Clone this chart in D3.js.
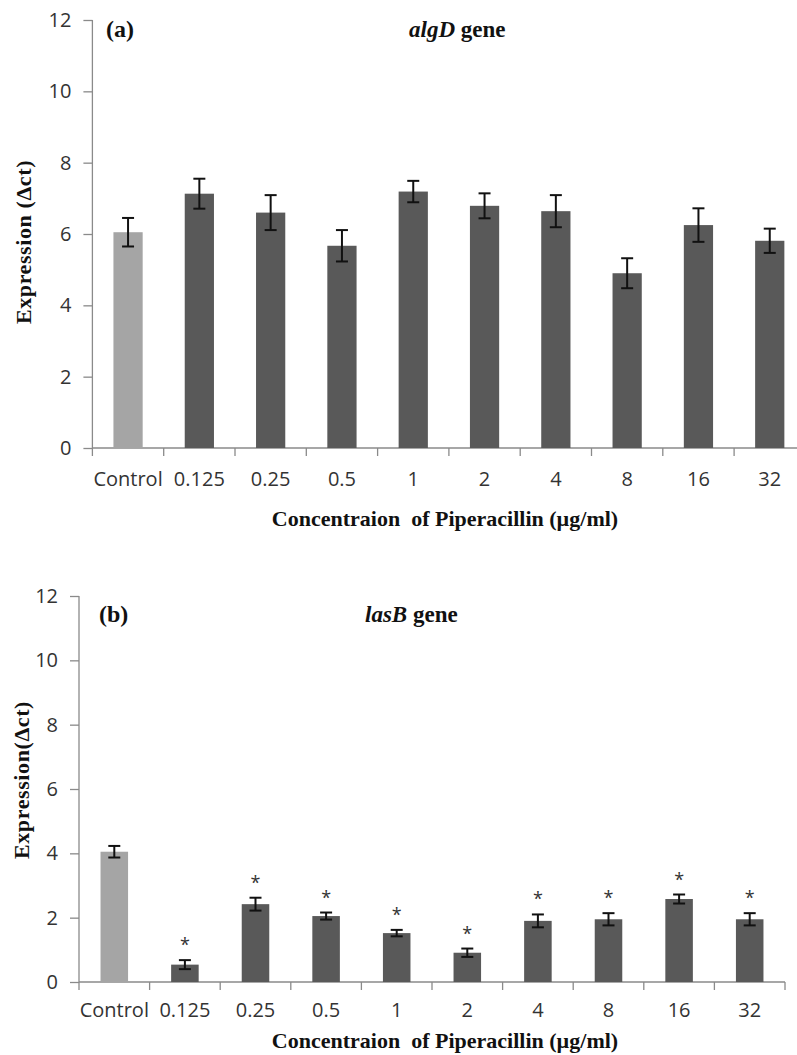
<!DOCTYPE html>
<html lang="en">
<head>
    <meta charset="UTF-8">
    <title>Piperacillin gene expression</title>
    <script src="https://cdn.jsdelivr.net/npm/d3@7"></script>
    <style>
        body { margin: 0; background: #fff; }
        .tick text { font-family: "Open Sans", sans-serif; font-size: 20px; fill: #333; }
        .axis path, .axis line { stroke: #8a8a8a; stroke-width: 1.3px; }
        .title { font-family: "Liberation Serif", serif; font-weight: bold; font-size: 22px; fill: #111; }
        .star { font-family: "Open Sans", sans-serif; font-size: 18px; fill: #333; }
    </style>
</head>
<body>
<div id="chart"></div>
<script>
    var W = 797, H = 1055;

    // data
    var categories = ["Control", "0.125", "0.25", "0.5", "1", "2", "4", "8", "16", "32"];
    var yTicks = [0, 2, 4, 6, 8, 10, 12];

    var algdMean = [6.05, 7.13, 6.60, 5.67, 7.19, 6.79, 6.64, 4.90, 6.25, 5.81];
    var algdErr  = [0.40, 0.42, 0.49, 0.44, 0.30, 0.35, 0.45, 0.42, 0.47, 0.34];

    var lasbMean = [4.05, 0.54, 2.42, 2.05, 1.52, 0.91, 1.90, 1.95, 2.58, 1.95];
    var lasbErr  = [0.18, 0.14, 0.20, 0.11, 0.10, 0.13, 0.20, 0.19, 0.14, 0.19];
    var lasbSig  = [false, true, true, true, true, true, true, true, true, true];

    var svg = d3.select("#chart")
        .append("svg")
        .attr("width", W)
        .attr("height", H);

    function panel(opt) {
        var g = svg.append("g");

        var rows = categories.map(function(c, i) {
            return { cat: c, v: opt.mean[i], e: opt.err[i], sig: opt.sig ? opt.sig[i] : false, first: i === 0 };
        });

        var x = d3.scaleBand()
            .domain(categories)
            .range([opt.x0, opt.x1])
            .paddingInner(opt.pad)
            .paddingOuter(opt.pad / 2);

        var y = d3.scaleLinear()
            .domain([0, 12])
            .range([opt.yBottom, opt.yTop]);

        var step = x.step();
        var cx = function(d) { return x(d.cat) + x.bandwidth() / 2; };

        // y axis
        g.append("g")
            .attr("class", "axis")
            .attr("transform", "translate(" + opt.x0 + ",0)")
            .call(d3.axisLeft(y).tickValues(yTicks).tickSize(9).tickSizeOuter(0).tickPadding(12))
            .call(function(s) { s.select(".domain").attr("d", "M0," + y(12) + "V" + y(0)); });

        // x axis, labels only
        var xa = g.append("g")
            .attr("class", "axis")
            .attr("transform", "translate(0," + opt.yBottom + ")")
            .call(d3.axisBottom(x).tickSize(0).tickPadding(opt.labelPad).tickSizeOuter(0));
        xa.select(".domain").attr("d", "M" + opt.x0 + ",0H" + opt.x1);

        // category boundary ticks
        var bounds = categories.map(function(c) { return x(c) - step * opt.pad / 2; });
        bounds.push(opt.x1);
        g.selectAll(".btick")
            .data(bounds)
            .enter()
            .append("line")
            .attr("class", "btick")
            .attr("x1", function(d) { return d; })
            .attr("x2", function(d) { return d; })
            .attr("y1", opt.yBottom)
            .attr("y2", opt.yBottom + 8)
            .attr("stroke", "#8a8a8a")
            .attr("stroke-width", 1.3);

        // bars
        g.selectAll(".bar")
            .data(rows)
            .enter()
            .append("rect")
            .attr("class", "bar")
            .attr("x", function(d) { return x(d.cat); })
            .attr("y", function(d) { return y(d.v); })
            .attr("width", x.bandwidth())
            .attr("height", function(d) { return y(0) - y(d.v); })
            .attr("fill", function(d) { return d.first ? "#a5a5a5" : "#595959"; });

        // error bars
        var cap = 6;
        var eb = g.selectAll(".err")
            .data(rows)
            .enter()
            .append("g")
            .attr("class", "err")
            .attr("stroke", "#111")
            .attr("stroke-width", 2);
        eb.append("line")
            .attr("x1", cx)
            .attr("x2", cx)
            .attr("y1", function(d) { return y(d.v + d.e); })
            .attr("y2", function(d) { return y(d.v - d.e); });
        [1, -1].forEach(function(sign) {
            eb.append("line")
                .attr("x1", function(d) { return cx(d) - cap; })
                .attr("x2", function(d) { return cx(d) + cap; })
                .attr("y1", function(d) { return y(d.v + sign * d.e); })
                .attr("y2", function(d) { return y(d.v + sign * d.e); });
        });

        // significance stars
        g.selectAll(".star")
            .data(rows.filter(function(d) { return d.sig; }))
            .enter()
            .append("text")
            .attr("class", "star")
            .attr("text-anchor", "middle")
            .attr("x", cx)
            .attr("y", function(d) { return y(d.v + d.e) - 9; })
            .text("*");

        // texts
        g.append("text")
            .attr("class", "title")
            .attr("x", opt.tagX)
            .attr("y", opt.tagY)
            .style("font-size", "24px")
            .text(opt.tag);

        var t = g.append("text")
            .attr("class", "title")
            .attr("x", opt.geneX)
            .attr("y", opt.tagY)
            .style("font-size", "23px");
        t.append("tspan").style("font-style", "italic").text(opt.gene);
        t.append("tspan").text(" gene");

        g.append("text")
            .attr("class", "title")
            .attr("text-anchor", "middle")
            .attr("x", 445)
            .attr("y", opt.xTitleY)
            .text("Concentraion\u00a0 of Piperacillin (\u00b5g/ml)");

        g.append("text")
            .attr("class", "title")
            .attr("text-anchor", "middle")
            .attr("transform", "translate(" + opt.yTitleX + "," + opt.yTitleY + ") rotate(-90)")
            .style("letter-spacing", "0.6px")
            .text(opt.yTitle);
    }

    panel({
        x0: 92.4, x1: 805.4, yTop: 20, yBottom: 448, pad: 0.59, labelPad: 24,
        mean: algdMean, err: algdErr,
        tag: "(a)", tagX: 106, tagY: 37, gene: "algD", geneX: 409,
        xTitleY: 526, yTitleX: 31, yTitleY: 242, yTitle: "Expression (\u0394ct)"
    });

    panel({
        x0: 79, x1: 785, yTop: 596, yBottom: 982, pad: 0.61, labelPad: 21,
        mean: lasbMean, err: lasbErr, sig: lasbSig,
        tag: "(b)", tagX: 99, tagY: 622, gene: "lasB", geneX: 365,
        xTitleY: 1048, yTitleX: 29, yTitleY: 780, yTitle: "Expression(\u0394ct)"
    });
</script>
</body>
</html>
